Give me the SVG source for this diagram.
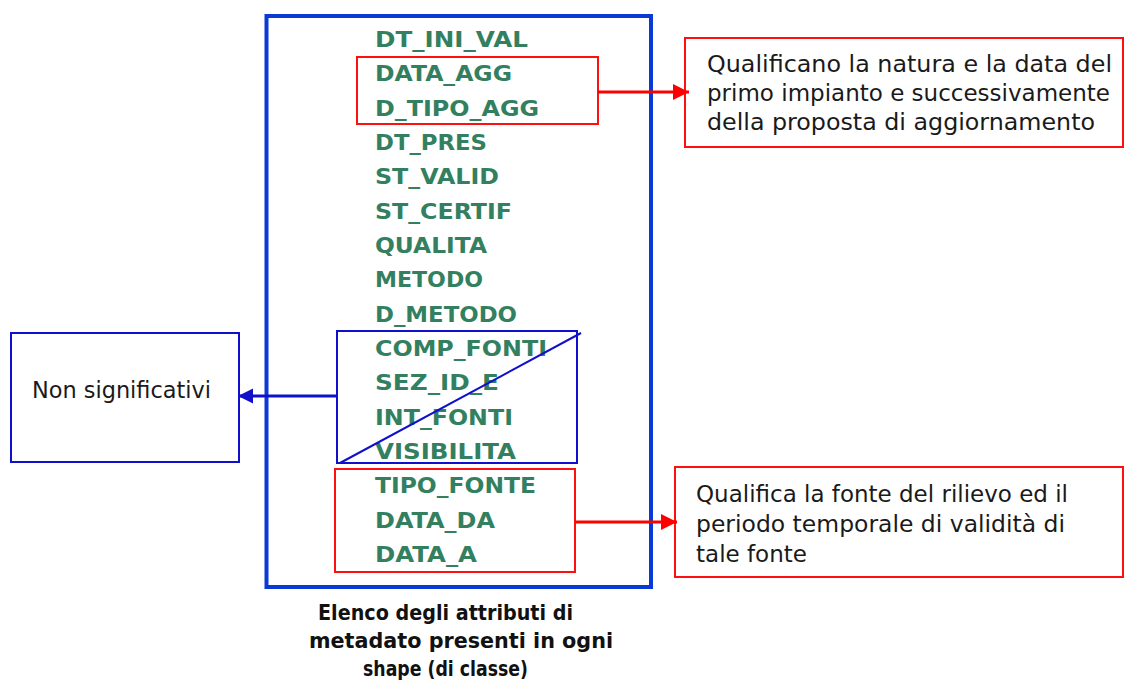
<svg xmlns="http://www.w3.org/2000/svg" width="1125" height="691" viewBox="0 0 1125 691">
<style>
.attr{font-family:"DejaVu Sans",Verdana,sans-serif;font-weight:bold;font-size:21px;fill:#338060}
.note{font-family:"DejaVu Sans","Liberation Sans",sans-serif;font-size:23px;fill:#1a1a1a}
.cap{font-family:"DejaVu Sans","Liberation Sans",sans-serif;font-weight:bold;font-size:21px;fill:#111}
.redbox{fill:none;stroke:#ff1010;stroke-width:2}
.bluebox{fill:none;stroke:#1010cc;stroke-width:2}
.notebox{fill:#fff;stroke:#ff1010;stroke-width:2}
</style>
<defs>
<marker id="arR" markerUnits="userSpaceOnUse" markerWidth="16" markerHeight="16" refX="16" refY="8" orient="auto"><path d="M0,0 L16,8 L0,16 z" fill="#ff0000"/></marker>
<marker id="arB" markerUnits="userSpaceOnUse" markerWidth="16" markerHeight="16" refX="15" refY="7.5" orient="auto"><path d="M0,0 L15,7.5 L0,15 z" fill="#1010cc"/></marker>
</defs>
<rect width="1125" height="691" fill="#fff"/>

<g id="attribute-list">
<rect x="266.5" y="16" width="384.5" height="571" fill="none" stroke="#0a3ad6" stroke-width="4"/>
<text class="attr" x="375" y="47" textLength="153" lengthAdjust="spacingAndGlyphs">DT_INI_VAL</text>
<text class="attr" x="375" y="81.3" textLength="137" lengthAdjust="spacingAndGlyphs">DATA_AGG</text>
<text class="attr" x="375" y="115.7" textLength="164" lengthAdjust="spacingAndGlyphs">D_TIPO_AGG</text>
<text class="attr" x="375" y="150" textLength="112" lengthAdjust="spacingAndGlyphs">DT_PRES</text>
<text class="attr" x="375" y="184.3" textLength="124" lengthAdjust="spacingAndGlyphs">ST_VALID</text>
<text class="attr" x="375" y="218.6" textLength="137" lengthAdjust="spacingAndGlyphs">ST_CERTIF</text>
<text class="attr" x="375" y="253" textLength="112" lengthAdjust="spacingAndGlyphs">QUALITA</text>
<text class="attr" x="375" y="287.3" textLength="108" lengthAdjust="spacingAndGlyphs">METODO</text>
<text class="attr" x="375" y="321.6" textLength="142" lengthAdjust="spacingAndGlyphs">D_METODO</text>
<text class="attr" x="375" y="356" textLength="172" lengthAdjust="spacingAndGlyphs">COMP_FONTI</text>
<text class="attr" x="375" y="390.3" textLength="124" lengthAdjust="spacingAndGlyphs">SEZ_ID_E</text>
<text class="attr" x="375" y="424.6" textLength="138" lengthAdjust="spacingAndGlyphs">INT_FONTI</text>
<text class="attr" x="375" y="459" textLength="141" lengthAdjust="spacingAndGlyphs">VISIBILITA</text>
<text class="attr" x="375" y="493.3" textLength="161" lengthAdjust="spacingAndGlyphs">TIPO_FONTE</text>
<text class="attr" x="375" y="527.6" textLength="120" lengthAdjust="spacingAndGlyphs">DATA_DA</text>
<text class="attr" x="375" y="562" textLength="102" lengthAdjust="spacingAndGlyphs">DATA_A</text>
</g>

<g id="group-agg">
<rect class="redbox" x="357" y="57" width="241" height="67"/>
</g>

<g id="group-non-significativi">
<rect class="bluebox" x="337" y="331" width="240" height="132"/>
<line x1="340" y1="463" x2="581" y2="333" stroke="#1010cc" stroke-width="2"/>
</g>

<g id="group-fonte">
<rect class="redbox" x="335" y="469" width="240" height="103"/>
</g>

<g id="note-agg">
<rect class="notebox" x="685" y="38" width="438" height="109"/>
<text class="note" x="707" y="72" textLength="405" lengthAdjust="spacingAndGlyphs">Qualificano la natura e la data del</text>
<text class="note" x="707" y="101" textLength="403" lengthAdjust="spacingAndGlyphs">primo impianto e successivamente</text>
<text class="note" x="707" y="130" textLength="388" lengthAdjust="spacingAndGlyphs">della proposta di aggiornamento</text>
</g>

<g id="note-non-significativi">
<rect x="11" y="333" width="228" height="129" fill="#fff" stroke="#1010cc" stroke-width="2"/>
<text class="note" x="32" y="398" textLength="179" lengthAdjust="spacingAndGlyphs">Non significativi</text>
</g>

<g id="note-fonte">
<rect class="notebox" x="675" y="467" width="448" height="110"/>
<text class="note" x="696" y="502" textLength="372" lengthAdjust="spacingAndGlyphs">Qualifica la fonte del rilievo ed il</text>
<text class="note" x="696" y="532" textLength="369" lengthAdjust="spacingAndGlyphs">periodo temporale di validità di</text>
<text class="note" x="696" y="562" textLength="111" lengthAdjust="spacingAndGlyphs">tale fonte</text>
</g>

<g id="caption">
<text class="cap" x="445.5" y="620" text-anchor="middle" textLength="255" lengthAdjust="spacingAndGlyphs">Elenco degli attributi di</text>
<text class="cap" x="461" y="648" text-anchor="middle" textLength="304" lengthAdjust="spacingAndGlyphs">metadato presenti in ogni</text>
<text class="cap" x="445.5" y="676" text-anchor="middle" textLength="165" lengthAdjust="spacingAndGlyphs">shape (di classe)</text>
</g>

<g id="connectors">
<line x1="598" y1="92" x2="689" y2="92" stroke="#ff0000" stroke-width="3" marker-end="url(#arR)"/>
<line x1="575" y1="522" x2="677" y2="522" stroke="#ff0000" stroke-width="3" marker-end="url(#arR)"/>
<line x1="337" y1="396" x2="238" y2="396" stroke="#1010cc" stroke-width="3" marker-end="url(#arB)"/>
</g>
</svg>
